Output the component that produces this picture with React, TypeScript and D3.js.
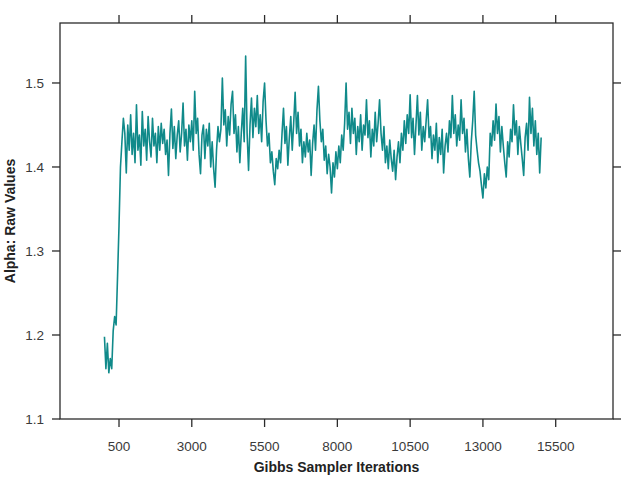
import { useEffect, useRef } from 'react'
import * as d3 from 'd3'

// sampled every 50 iterations, starting at 0
const alphaBurnIn = [1.198, 1.16, 1.19, 1.155, 1.172, 1.16, 1.205, 1.222, 1.212, 1.27, 1.33, 1.4, 1.43, 1.458, 1.44, 1.393, 1.45, 1.42, 1.462, 1.415]
const alpha1000 = [1.44, 1.405, 1.474, 1.42, 1.438, 1.402, 1.466, 1.425, 1.445, 1.408, 1.46, 1.43, 1.412, 1.458, 1.425, 1.44, 1.405, 1.448, 1.42, 1.452]
const alpha2000 = [1.428, 1.445, 1.415, 1.432, 1.39, 1.44, 1.469, 1.422, 1.448, 1.41, 1.438, 1.455, 1.418, 1.44, 1.476, 1.425, 1.445, 1.408, 1.45, 1.43]
const alpha3000 = [1.455, 1.42, 1.49, 1.44, 1.458, 1.415, 1.392, 1.438, 1.45, 1.41, 1.445, 1.425, 1.452, 1.4, 1.43, 1.398, 1.376, 1.42, 1.448, 1.43]
const alpha4000 = [1.445, 1.506, 1.45, 1.468, 1.425, 1.46, 1.438, 1.475, 1.49, 1.44, 1.462, 1.418, 1.448, 1.405, 1.44, 1.47, 1.43, 1.532, 1.44, 1.396]
const alpha5000 = [1.45, 1.482, 1.435, 1.47, 1.448, 1.485, 1.44, 1.462, 1.43, 1.478, 1.5, 1.455, 1.425, 1.44, 1.405, 1.418, 1.395, 1.379, 1.41, 1.398]
const alpha6000 = [1.42, 1.405, 1.44, 1.47, 1.428, 1.448, 1.402, 1.435, 1.46, 1.42, 1.452, 1.489, 1.44, 1.465, 1.425, 1.445, 1.405, 1.43, 1.412, 1.44]
const alpha7000 = [1.418, 1.432, 1.39, 1.428, 1.45, 1.42, 1.468, 1.496, 1.455, 1.43, 1.445, 1.408, 1.425, 1.392, 1.415, 1.4, 1.369, 1.405, 1.388, 1.418]
const alpha8000 = [1.398, 1.425, 1.405, 1.438, 1.42, 1.452, 1.5, 1.445, 1.465, 1.428, 1.47, 1.44, 1.458, 1.415, 1.448, 1.43, 1.462, 1.42, 1.45, 1.438]
const alpha9000 = [1.48, 1.435, 1.455, 1.412, 1.445, 1.425, 1.465, 1.43, 1.452, 1.48, 1.44, 1.42, 1.448, 1.405, 1.425, 1.398, 1.432, 1.41, 1.395, 1.42]
const alpha10000 = [1.385, 1.412, 1.43, 1.405, 1.44, 1.42, 1.455, 1.428, 1.462, 1.44, 1.486, 1.435, 1.458, 1.415, 1.45, 1.485, 1.438, 1.465, 1.42, 1.448]
const alpha11000 = [1.43, 1.455, 1.48, 1.435, 1.448, 1.41, 1.438, 1.42, 1.452, 1.405, 1.435, 1.415, 1.445, 1.393, 1.425, 1.44, 1.418, 1.455, 1.435, 1.485]
const alpha12000 = [1.44, 1.462, 1.425, 1.45, 1.432, 1.48, 1.44, 1.458, 1.418, 1.445, 1.41, 1.388, 1.43, 1.455, 1.49, 1.438, 1.42, 1.405, 1.395, 1.378]
const alpha13000 = [1.363, 1.392, 1.375, 1.4, 1.385, 1.44, 1.425, 1.455, 1.432, 1.475, 1.44, 1.46, 1.418, 1.448, 1.425, 1.405, 1.388, 1.43, 1.412, 1.445]
const alpha14000 = [1.43, 1.474, 1.438, 1.455, 1.415, 1.448, 1.428, 1.41, 1.39, 1.435, 1.452, 1.42, 1.483, 1.44, 1.47, 1.425, 1.455, 1.415, 1.44, 1.393, 1.435]

const alphaValues = [
  ...alphaBurnIn, ...alpha1000, ...alpha2000, ...alpha3000, ...alpha4000,
  ...alpha5000, ...alpha6000, ...alpha7000, ...alpha8000, ...alpha9000,
  ...alpha10000, ...alpha11000, ...alpha12000, ...alpha13000, ...alpha14000,
]
const thin = 50

const xTicks = [500, 3000, 5500, 8000, 10500, 13000, 15500]
const yTicks = [1.1, 1.2, 1.3, 1.4, 1.5]

export default function App() {
  const ref = useRef(null)

  useEffect(() => {
    const width = 626
    const height = 483
    const left = 60, right = 613, top = 23, bottom = 419
    const tick = 8
    const font = '"Liberation Sans", Arial, Helvetica, sans-serif'

    const svg = d3.select(ref.current)
    svg.selectAll('*').remove()
    svg.attr('width', width).attr('height', height)

    const x = d3.scaleLinear().domain([-1527, 17468]).range([left, right])
    const y = d3.scaleLinear().domain([1.1, 1.5714]).range([bottom, top])

    const line = d3
      .line<number>()
      .x((d, i) => x(i * thin))
      .y((d) => y(d))

    svg
      .append('path')
      .datum(alphaValues)
      .attr('d', line)
      .attr('fill', 'none')
      .attr('stroke', '#108a8a')
      .attr('stroke-width', 1.6)
      .attr('stroke-linejoin', 'round')

    const axisCol = '#2b2b2b'

    svg
      .append('rect')
      .attr('x', left)
      .attr('y', top)
      .attr('width', right - left)
      .attr('height', bottom - top)
      .attr('fill', 'none')
      .attr('stroke', axisCol)
      .attr('stroke-width', 1.3)

    const g = svg.append('g').attr('stroke', axisCol).attr('stroke-width', 1.3)
    xTicks.forEach((t) => {
      g.append('line').attr('x1', x(t)).attr('x2', x(t)).attr('y1', bottom).attr('y2', bottom + tick)
      g.append('line').attr('x1', x(t)).attr('x2', x(t)).attr('y1', top).attr('y2', top - tick)
    })
    yTicks.forEach((t) => {
      g.append('line').attr('y1', y(t)).attr('y2', y(t)).attr('x1', left).attr('x2', left - tick)
      g.append('line').attr('y1', y(t)).attr('y2', y(t)).attr('x1', right).attr('x2', right + tick)
    })

    svg
      .selectAll('.xlab')
      .data(xTicks)
      .enter()
      .append('text')
      .attr('x', (d) => x(d))
      .attr('y', 451)
      .attr('text-anchor', 'middle')
      .style('font-family', font)
      .style('font-size', '13.5px')
      .style('fill', '#3a3a3a')
      .text((d) => d)

    svg
      .selectAll('.ylab')
      .data(yTicks)
      .enter()
      .append('text')
      .attr('x', 44)
      .attr('y', (d) => y(d) + 5)
      .attr('text-anchor', 'end')
      .style('font-family', font)
      .style('font-size', '13.5px')
      .style('fill', '#3a3a3a')
      .text((d) => d.toFixed(1))

    svg
      .append('text')
      .attr('x', (left + right) / 2)
      .attr('y', 472)
      .attr('text-anchor', 'middle')
      .style('font-family', font)
      .style('font-size', '14px')
      .style('font-weight', 700)
      .style('fill', '#222')
      .text('Gibbs Sampler Iterations')

    svg
      .append('text')
      .attr('transform', `translate(15, ${(top + bottom) / 2}) rotate(-90)`)
      .attr('text-anchor', 'middle')
      .style('font-family', font)
      .style('font-size', '14px')
      .style('font-weight', 700)
      .style('fill', '#222')
      .text('Alpha: Raw Values')
  }, [])

  return <svg ref={ref} style={{ position: 'absolute', left: 0, top: 0, display: 'block' }}></svg>
}
